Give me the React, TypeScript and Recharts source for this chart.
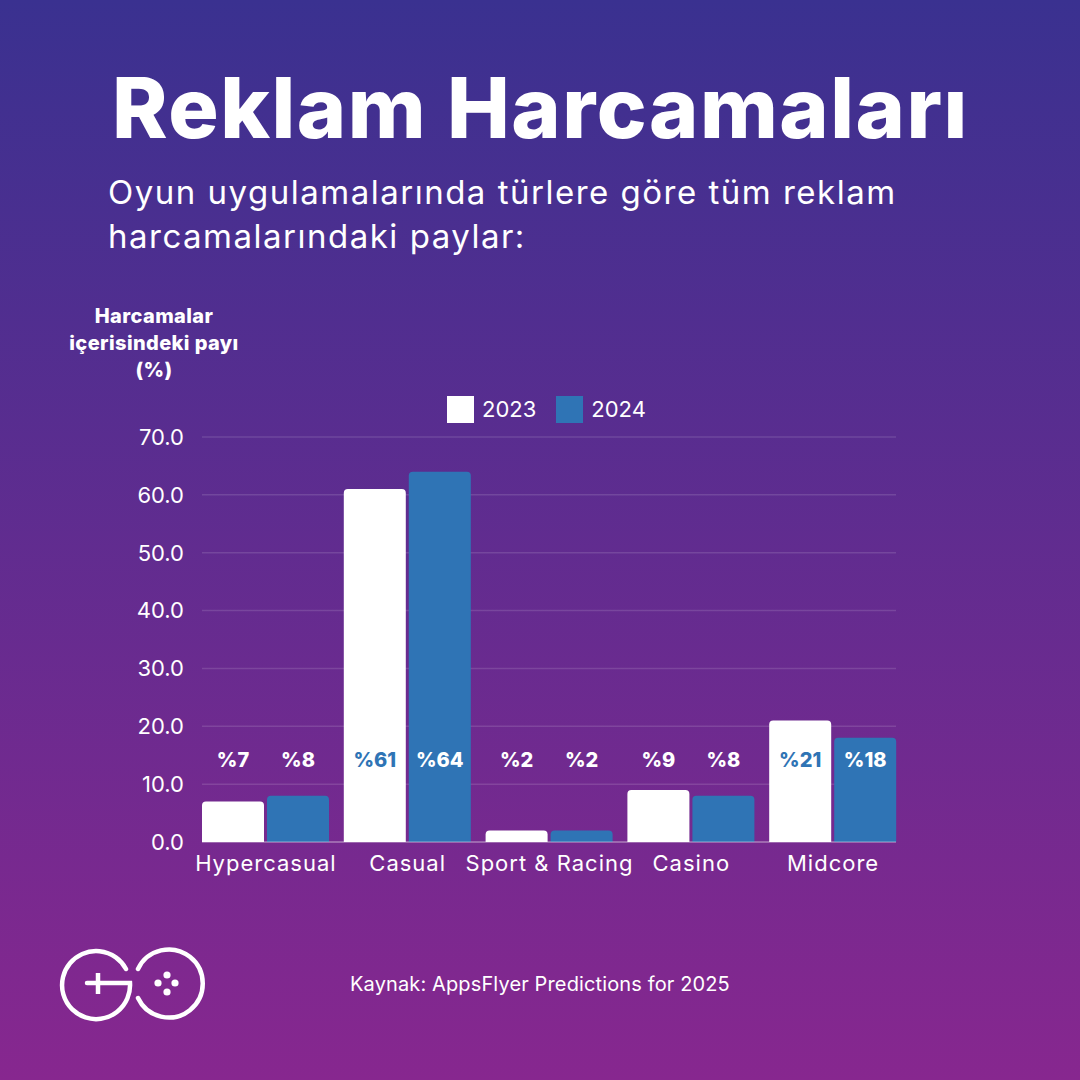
import { BarChart, Bar, XAxis, YAxis, CartesianGrid, Legend, LabelList } from 'recharts';

const FONT = 'Inter, "Noto Sans", sans-serif';

const CATEGORIES = ['Hypercasual', 'Casual', 'Sport & Racing', 'Casino', 'Midcore'];
const VALUES_2023 = [7, 61, 2, 9, 21];
const VALUES_2024 = [8, 64, 2, 8, 18];
const Y_TICKS = [0, 10, 20, 30, 40, 50, 60, 70];

const TITLE = 'Reklam Harcamaları';
const SUBTITLE = ['Oyun uygulamalarında türlere göre tüm reklam', 'harcamalarındaki paylar:'];
const Y_TITLE = ['Harcamalar', 'içerisindeki payı', '(%)'];
const SOURCE = 'Kaynak: AppsFlyer Predictions for 2025';

const WHITE = '#ffffff';
const BLUE = '#2f74b5';
const LABEL_Y = 760;

const chartData = CATEGORIES.map((name, i) => ({
  name,
  y2023: VALUES_2023[i],
  y2024: VALUES_2024[i],
}));

// the % labels all sit on one line, no matter how tall the bar is
function ValueLabel(props: any) {
  const { x, y, width, value, onWhite } = props;
  const covered = y < LABEL_Y - 12;
  const fill = onWhite && covered ? BLUE : WHITE;
  return (
    <text
      x={x + width / 2}
      y={LABEL_Y}
      textAnchor="middle"
      dominantBaseline="central"
      fill={fill}
      fontFamily={FONT}
      fontWeight={800}
      fontSize={20}
    >
      %{value}
    </text>
  );
}

function LegendRow({ payload }: any) {
  return (
    <div style={{ display: 'flex', fontFamily: FONT, fontSize: 22, color: WHITE, lineHeight: '27px' }}>
      {(payload || []).map((item: any) => (
        <div key={item.value} style={{ display: 'flex', alignItems: 'center', marginRight: 20 }}>
          <span style={{ width: 27, height: 27, background: item.color, marginRight: 8, display: 'block' }} />
          {item.value}
        </div>
      ))}
    </div>
  );
}

function Logo() {
  return (
    <svg width={160} height={90} viewBox="50 940 160 90" style={{ position: 'absolute', left: 50, top: 940 }}>
      <g fill="none" stroke={WHITE} strokeWidth={4.5} strokeLinecap="round">
        <path d="M126 969 A34 34 0 1 0 130 983 H87" />
        <path d="M98 973 V994" strokeLinecap="butt" />
        <path d="M138 969 A34 34 0 1 1 138 998" />
      </g>
      <g fill={WHITE}>
        <circle cx={167} cy={975} r={3.6} />
        <circle cx={158} cy={983} r={3.6} />
        <circle cx={175} cy={983} r={3.6} />
        <circle cx={167} cy={992} r={3.6} />
      </g>
    </svg>
  );
}

export default function App() {
  return (
    <div
      style={{
        position: 'absolute',
        left: 0,
        top: 0,
        width: 1080,
        height: 1080,
        overflow: 'hidden',
        background: 'linear-gradient(180deg, #3a3190 0%, #87278f 100%)',
        fontFamily: FONT,
        color: WHITE,
      }}
    >
      <div style={{ position: 'absolute', left: 112, top: 60, fontSize: 84, fontWeight: 800, letterSpacing: 1.5, lineHeight: '96px', whiteSpace: 'nowrap' }}>
        {TITLE}
      </div>
      {SUBTITLE.map((line, i) => (
        <div key={line} style={{ position: 'absolute', left: 108, top: 170 + i * 44, fontSize: 33, letterSpacing: 1.5, lineHeight: '44px', whiteSpace: 'nowrap' }}>
          {line}
        </div>
      ))}
      {Y_TITLE.map((line, i) => (
        <div
          key={line}
          style={{ position: 'absolute', left: 54, width: 200, top: 303 + i * 27, textAlign: 'center', fontSize: 20, fontWeight: 800, letterSpacing: 0.4, lineHeight: '27px' }}
        >
          {line}
        </div>
      ))}

      <div style={{ position: 'absolute', left: 0, top: 0 }}>
        <BarChart
          width={1080}
          height={1080}
          data={chartData}
          margin={{ top: 437, right: 184, bottom: 198, left: 0 }}
          barCategoryGap={7.5}
          barGap={3}
        >
          <CartesianGrid vertical={false} stroke="rgba(255,255,255,0.13)" strokeWidth={1.5} />
          <XAxis
            dataKey="name"
            height={40}
            padding={{ left: -7, right: -8 }}
            tickLine={false}
            axisLine={{ stroke: 'rgba(255,255,255,0.3)', strokeWidth: 1.5 }}
            interval={0}
            tickMargin={7}
            tick={{ fill: WHITE, fontSize: 22, fontFamily: FONT, letterSpacing: 1 }}
          />
          <YAxis
            width={202}
            domain={[0, 70]}
            ticks={Y_TICKS}
            tickFormatter={(v: number) => v.toFixed(1)}
            tickLine={false}
            axisLine={false}
            tickMargin={12}
            tick={{ fill: WHITE, fontSize: 22, fontFamily: FONT }}
          />
          <Legend
            verticalAlign="middle"
            align="center"
            content={<LegendRow />}
            wrapperStyle={{ left: 447, top: 396, width: 300, bottom: 'auto' }}
          />
          <Bar dataKey="y2023" name="2023" fill={WHITE} barSize={62} radius={[4, 4, 0, 0]} isAnimationActive={false}>
            <LabelList dataKey="y2023" content={<ValueLabel onWhite />} />
          </Bar>
          <Bar dataKey="y2024" name="2024" fill={BLUE} barSize={62} radius={[4, 4, 0, 0]} isAnimationActive={false}>
            <LabelList dataKey="y2024" content={<ValueLabel />} />
          </Bar>
        </BarChart>
      </div>

      <div style={{ position: 'absolute', left: 350, top: 970, fontSize: 20, letterSpacing: 0.13, lineHeight: '28px', whiteSpace: 'nowrap' }}>
        {SOURCE}
      </div>
      <Logo />
    </div>
  );
}
